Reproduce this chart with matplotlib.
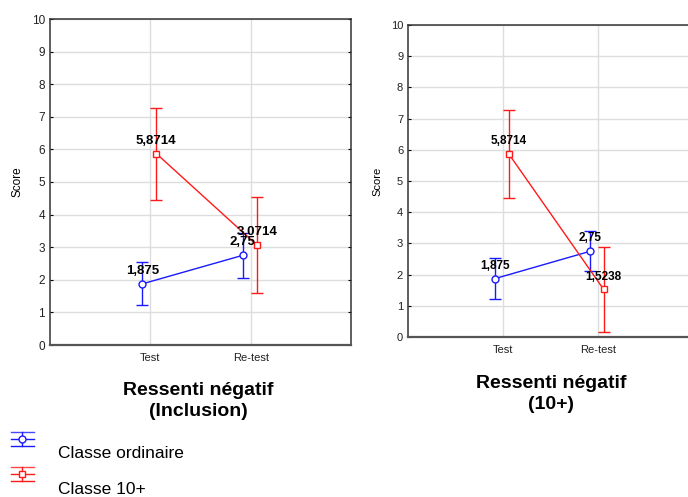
import matplotlib
matplotlib.use("Agg")
import matplotlib.pyplot as plt
import numpy as np

plt.rcParams["font.family"] = ["Liberation Sans", "DejaVu Sans"]

# ------------------------------------------------------------
# Data (means and 95% CI half-widths)
# ------------------------------------------------------------
conditions = ["Test", "Re-test"]
series_names = ["Classe ordinaire", "Classe 10+"]

incl_ordinaire = [1.875, 2.75]
incl_ordinaire_err = [0.66, 0.68]
incl_10plus = [5.8714, 3.0714]
incl_10plus_err = [1.41, 1.47]

tenp_ordinaire = [1.875, 2.75]
tenp_ordinaire_err = [0.66, 0.64]
tenp_10plus = [5.8714, 1.5238]
tenp_10plus_err = [1.41, 1.36]

labels_ordinaire = ["1,875", "2,75"]
labels_incl_10plus = ["5,8714", "3,0714"]
labels_tenp_10plus = ["5,8714", "1,5238"]

BLUE = "#1a1aff"
RED = "#ff1a1a"

fig = plt.figure(figsize=(6.88, 4.97), dpi=100)
W, H = 688, 497


def px_axes(x0, y0, x1, y1):
    return fig.add_axes([x0 / W, 1 - y1 / H, (x1 - x0) / W, (y1 - y0) / H])


def draw_panel(ax, blue, blue_err, red, red_err, blue_lbl, red_lbl, fs):
    x = np.arange(1, len(conditions) + 1)
    ax.errorbar(x - 0.08, blue, yerr=blue_err, fmt="-o", color=BLUE, lw=1,
                ms=5, mfc="white", mec=BLUE, capsize=4, capthick=1, zorder=3)
    ax.errorbar(x + 0.06, red, yerr=red_err, fmt="-s", color=RED, lw=1,
                ms=5, mfc="white", mec=RED, capsize=4, capthick=1, zorder=3)
    for xi, v, t in zip(x - 0.08, blue, blue_lbl):
        ax.annotate(t, (xi, v), xytext=(0, 5), textcoords="offset points",
                    ha="center", va="bottom", fontsize=fs, fontweight="bold",
                    zorder=5)
    for xi, v, t in zip(x + 0.06, red, red_lbl):
        ax.annotate(t, (xi, v), xytext=(0, 5), textcoords="offset points",
                    ha="center", va="bottom", fontsize=fs, fontweight="bold",
                    zorder=5)
    ax.set_xlim(0, 3)
    ax.set_ylim(0, 10)
    ax.set_xticks(x)
    ax.set_xticklabels(conditions, fontsize=8)
    ax.set_yticks(range(0, 11))
    ax.tick_params(axis="y", direction="in", length=2, labelsize=8.5,
                   right=True, labelcolor="#222222")
    ax.tick_params(axis="x", length=0, pad=6, labelcolor="#222222")
    ax.grid(True, color="#dddddd", lw=1)
    ax.set_axisbelow(True)
    ax.set_ylabel("Score", fontsize=8.5, labelpad=6)
    for s in ax.spines.values():
        s.set_color("#333333")
        s.set_linewidth(1.1)
    ax.spines["bottom"].set_linewidth(1.6)
    ax.spines["bottom"].set_color("#555555")


ax1 = px_axes(50, 19, 351, 345)
draw_panel(ax1, incl_ordinaire, incl_ordinaire_err, incl_10plus,
           incl_10plus_err, labels_ordinaire, labels_incl_10plus, 9.5)

ax2 = px_axes(408, 25, 693, 337)
draw_panel(ax2, tenp_ordinaire, tenp_ordinaire_err, tenp_10plus,
           tenp_10plus_err, labels_ordinaire, labels_tenp_10plus, 8.5)
ax2.yaxis.label.set_size(8)
ax2.tick_params(axis="y", labelsize=8)

fig.text(198 / W, 1 - 401 / H, "Ressenti négatif\n(Inclusion)", ha="center",
         va="center", fontsize=14, fontweight="bold", linespacing=1.3)
fig.text(551 / W, 1 - 394 / H, "Ressenti négatif\n(10+)", ha="center",
         va="center", fontsize=14, fontweight="bold", linespacing=1.3)

# ------------------------------------------------------------
# Legend (symbol above, label below-right)
# ------------------------------------------------------------
leg = fig.add_axes([0, 0, 60 / W, 1 - 420 / H])
leg.set_xlim(0, 60)
leg.set_ylim(H, 420)
leg.axis("off")
for yc, col, mk, name, ty in [(439, BLUE, "o", series_names[0], 453),
                               (474, RED, "s", series_names[1], 490)]:
    leg.plot([11, 34], [yc, yc], color=col, lw=1)
    leg.plot([11, 34], [yc - 7, yc - 7], color=col, lw=1, alpha=0.8)
    leg.plot([11, 34], [yc + 7, yc + 7], color=col, lw=1)
    leg.plot([22, 22], [yc - 7, yc + 7], color=col, lw=1)
    leg.plot([22], [yc], marker=mk, ms=5, mfc="white", mec=col, color=col)
    fig.text(58 / W, 1 - ty / H, name, ha="left", va="center", fontsize=12.5)

fig.savefig("out.png", dpi=100)
